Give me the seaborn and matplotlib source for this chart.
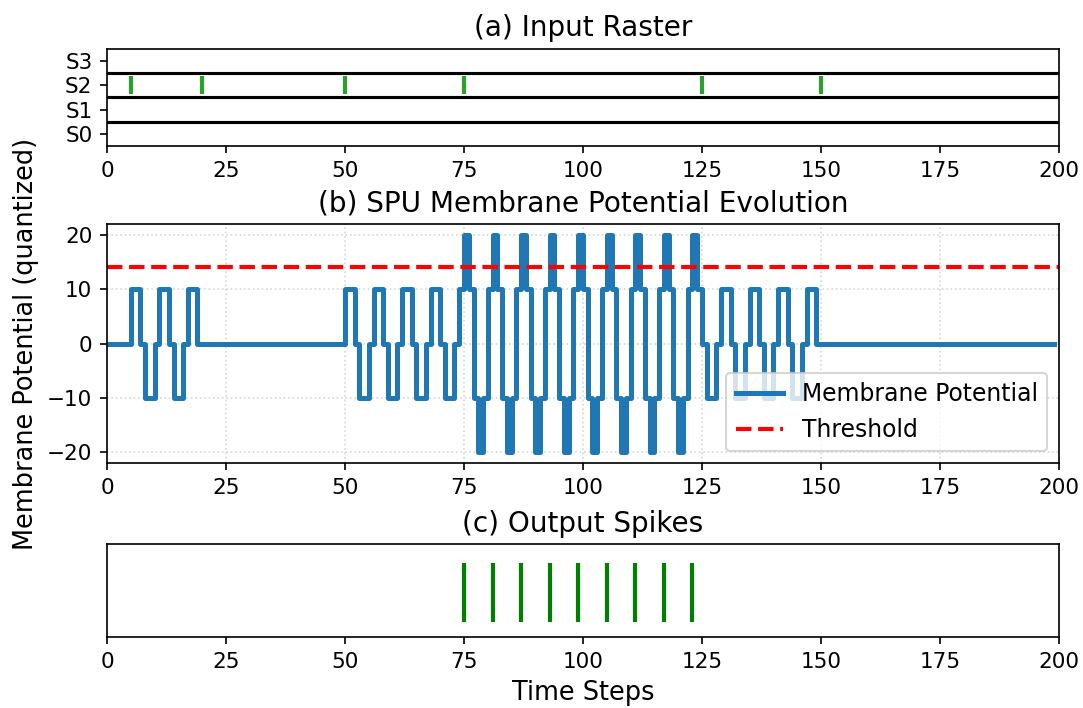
import matplotlib
matplotlib.use("Agg")
import matplotlib.pyplot as plt
import seaborn as sns

# input raster: only channel S2 fires
channel_labels = ["S0", "S1", "S2", "S3"]
input_spike_times = [5, 20, 50, 75, 125, 150]
input_spike_channel = 2

# membrane potential, given as (time, level) change points, held until next change
vm_times = [0, 5, 7, 8, 10, 11, 13, 14, 16, 17, 19,
            50, 52, 53, 55, 56, 58, 59, 61, 62, 64, 65, 67, 68, 70, 71, 73, 74,
            75, 76, 77, 78, 79, 80, 81, 82, 83, 84, 85, 86, 87, 88, 89, 90, 91, 92,
            93, 94, 95, 96, 97, 98, 99, 100, 101, 102, 103, 104, 105, 106, 107, 108,
            109, 110, 111, 112, 113, 114, 115, 116, 117, 118, 119, 120, 121, 122,
            123, 124, 125, 126, 128, 129, 131, 132, 134, 135, 137, 138, 140, 141,
            143, 144, 146, 147, 149, 199]
vm_levels = [0, 10, 0, -10, 0, 10, 0, -10, 0, 10, 0,
             10, 0, -10, 0, 10, 0, -10, 0, 10, 0, -10, 0, 10, 0, -10, 0, 10,
             20, 10, -10, -20, -10, 10, 20, 10, -10, -20, -10, 10, 20, 10, -10, -20, -10, 10,
             20, 10, -10, -20, -10, 10, 20, 10, -10, -20, -10, 10, 20, 10, -10, -20,
             -10, 10, 20, 10, -10, -20, -10, 10, 20, 10, -10, -20, -10, 10,
             20, 10, 0, -10, 0, 10, 0, -10, 0, 10, 0, -10, 0, 10,
             0, -10, 0, 10, 0, 0]
threshold = 14

output_spike_times = [75, 81, 87, 93, 99, 105, 111, 117, 123]

x_ticks = [0, 25, 50, 75, 100, 125, 150, 175, 200]

plt.rcParams["font.family"] = ["DejaVu Sans"]
plt.rcParams["xtick.labelsize"] = 10.3
plt.rcParams["ytick.labelsize"] = 10.3

fig = plt.figure(figsize=(1083 / 150, 708 / 150), dpi=150)
left, width = 0.0988, 0.879
ax_in = fig.add_axes([left, 0.7938, width, 0.1370])
ax_vm = fig.add_axes([left, 0.3460, width, 0.3376])
ax_out = fig.add_axes([left, 0.1003, width, 0.1313])

# (a) input raster
ax_in.eventplot([input_spike_times], lineoffsets=input_spike_channel,
                linelengths=0.75, linewidths=2, colors="tab:green")
for y in [0.5, 1.5, 2.5]:
    ax_in.axhline(y, color="black", linewidth=1.5)
ax_in.set_ylim(-0.5, 3.5)
ax_in.set_yticks(range(len(channel_labels)))
ax_in.set_yticklabels(channel_labels)
ax_in.set_xlim(0, 200)
ax_in.set_xticks(x_ticks)
ax_in.set_title("(a) Input Raster", fontsize=13.4)

# (b) membrane potential
sns.lineplot(x=vm_times, y=vm_levels, drawstyle="steps-post", estimator=None,
             color="#1f77b4", linewidth=2.4, label="Membrane Potential", ax=ax_vm)
ax_vm.axhline(threshold, color="red", linestyle="--", linewidth=2, label="Threshold")
ax_vm.set_xlim(0, 200)
ax_vm.set_ylim(-22, 22)
ax_vm.set_xticks(x_ticks)
ax_vm.set_yticks([-20, -10, 0, 10, 20])
ax_vm.grid(True, linestyle=":", alpha=0.5)
ax_vm.set_ylabel("Membrane Potential (quantized)", fontsize=12.3)
ax_vm.set_title("(b) SPU Membrane Potential Evolution", fontsize=13.4)
ax_vm.legend(loc="lower right", fontsize=11.3)

# (c) output spikes
ax_out.eventplot([output_spike_times], lineoffsets=1, linelengths=1,
                 linewidths=2, colors="green")
ax_out.set_ylim(0.25, 1.81)
ax_out.set_yticks([])
ax_out.set_xlim(0, 200)
ax_out.set_xticks(x_ticks)
ax_out.set_xlabel("Time Steps", fontsize=12.3)
ax_out.set_title("(c) Output Spikes", fontsize=13.4)

fig.savefig("out.png", dpi=150)
